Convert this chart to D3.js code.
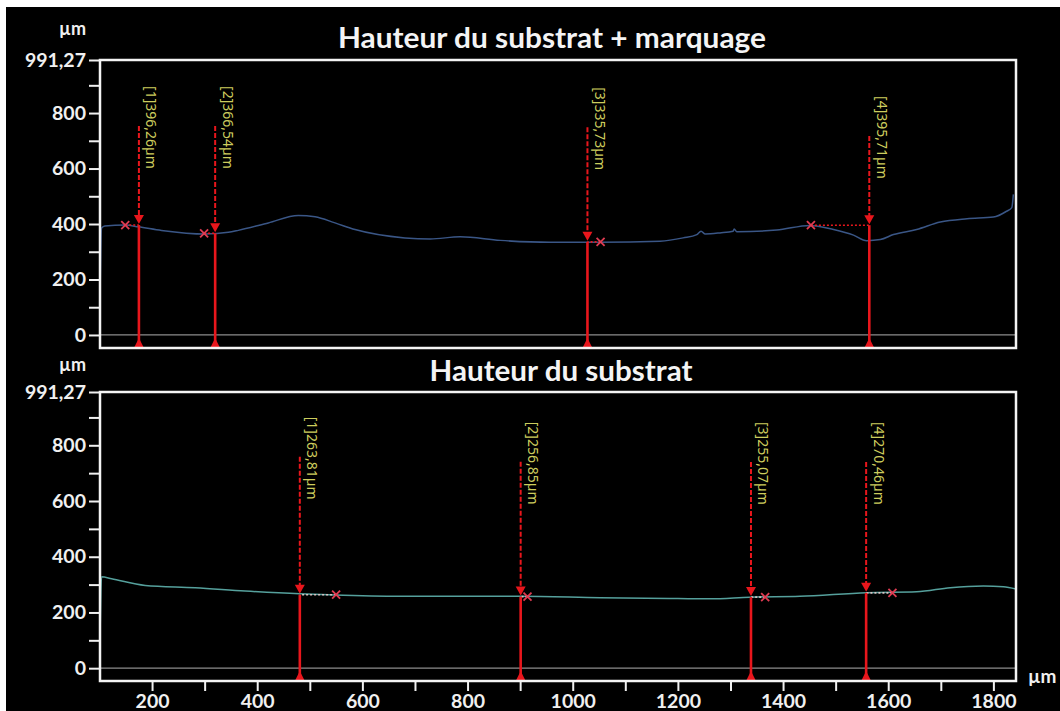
<!DOCTYPE html>
<html><head><meta charset="utf-8">
<script src="https://cdn.jsdelivr.net/npm/d3@7"></script>
<style>html,body{margin:0;padding:0;background:#fff;overflow:hidden}</style>
</head><body><svg id="chart" width="1060" height="711"></svg>
<script>
// ---------- data ----------
const titles = ["Hauteur du substrat + marquage", "Hauteur du substrat"];
const unitLabel = "µm";
const xTicks = [200,300,400,500,600,700,800,900,1000,1100,1200,1300,1400,1500,1600,1700,1800];
const xTickLabels = ["200","","400","","600","","800","","1000","","1200","","1400","","1600","","1800"];
const yTicks = [0,100,200,300,400,500,600,700,800,900,991.27];
const yTickLabels = ["0","","200","","400","","600","","800","","991,27"];

const topProfileX = [101,104,110,149,174,218,301,345,364,421,478,510,548,586,681,729,786,862,957,1052,1166,1210,1236,1244,1252,1280,1305,1307,1312,1388,1451,1496,1534,1559,1585,1610,1654,1699,1750,1800,1825,1835,1838];
const topProfileY = [130,385,393,396,390,377,364,370,377,404,431,426,404,380,350,346,354,341,334,334,338,350,362,374,364,368,374,382,372,378,395,380,360,340,344,362,380,407,419,425,446,459,507];

const bottomProfileX = [101,104,123,187,282,377,481,548,681,900,1052,1200,1261,1337,1432,1559,1654,1718,1781,1819,1843];
const bottomProfileY = [100,328,321,297,289,277,267,263,258,258,253,250,249,255,258,271,274,289,295,292,284];

const topCursorX = [175, 320, 1028, 1564];
const topCursorRefX = [149, 299, 1053, 1453];
const topCursorValue = [396.26, 366.54, 335.73, 395.71];
const topCursorDashTop = [753, 753, 749, 717];

const bottomCursorX = [481, 901, 1339, 1558];
const bottomCursorRefX = [550, 914, 1366, 1608];
const bottomCursorValue = [263.81, 256.85, 255.07, 270.46];
const bottomCursorDashTop = [759, 741, 740, 740];

// ---------- layout / style ----------
const svg = d3.select("#chart");
svg.append("rect").attr("x",0).attr("y",0).attr("width",1060).attr("height",711).attr("fill","#fff");
svg.append("rect").attr("x",6).attr("y",7).attr("width",1054).attr("height",704).attr("fill","#000");

const RED = "#e8161c";
const LABEL = "#cdcd5e";
const fontBold = "Lato, 'Open Sans', sans-serif";

const x = d3.scaleLinear().domain([101, 1843]).range([100, 1016]);

const panels = [
  {title: titles[0], titleX: 552, titleY: 48, titleW: 428, unitY: 35, y0: 60, y1: 348, yMin: -47,
   px: topProfileX, py: topProfileY, color: "#3a5686",
   cx: topCursorX, rx: topCursorRefX, cv: topCursorValue, cd: topCursorDashTop, dotColor: RED, xAxis: false},
  {title: titles[1], titleX: 561, titleY: 381, titleW: 263, unitY: 371, y0: 392, y1: 681, yMin: -46,
   px: bottomProfileX, py: bottomProfileY, color: "#55a09c",
   cx: bottomCursorX, rx: bottomCursorRefX, cv: bottomCursorValue, cd: bottomCursorDashTop, dotColor: "#d8c0c0", xAxis: true}
];

panels.forEach(p => {
  const y = d3.scaleLinear().domain([p.yMin, 991.27]).range([p.y1, p.y0]);
  const g = svg.append("g");

  // title
  g.append("text").attr("x", p.titleX).attr("y", p.titleY).attr("text-anchor","middle")
    .attr("font-family", fontBold).attr("font-weight",700).attr("font-size",29)
    .attr("textLength", p.titleW).attr("lengthAdjust","spacingAndGlyphs")
    .attr("fill","#f4f4f4").text(p.title);

  // unit
  g.append("text").attr("x", 86).attr("y", p.unitY).attr("text-anchor","end")
    .attr("font-family", fontBold).attr("font-weight",700).attr("font-size",18)
    .attr("fill","#f0f0f0").text(unitLabel);

  // zero line
  g.append("line").attr("x1", x.range()[0]).attr("x2", x.range()[1])
    .attr("y1", y(0)).attr("y2", y(0)).attr("stroke","#8c8c8c").attr("stroke-width",1.2);

  // profile
  const line = d3.line().x(d => x(d[0])).y(d => y(d[1])).curve(d3.curveMonotoneX);
  g.append("path").datum(p.px.map((v,i) => [v, p.py[i]]))
    .attr("d", line).attr("fill","none").attr("stroke", p.color).attr("stroke-width",1.5);

  // cursors
  p.cx.forEach((cxv, i) => {
    const cx = x(cxv), cy = y(p.cv[i]), rx = x(p.rx[i]), yb = p.y1, dt = y(p.cd[i]);
    const cg = g.append("g");
    cg.append("line").attr("x1", rx).attr("x2", cx).attr("y1", cy).attr("y2", cy)
      .attr("stroke", p.dotColor).attr("stroke-width",1.6).attr("stroke-dasharray","2,2");
    cg.append("line").attr("x1", cx).attr("x2", cx).attr("y1", dt).attr("y2", cy-8)
      .attr("stroke", RED).attr("stroke-width",2).attr("stroke-dasharray","5,2");
    cg.append("line").attr("x1", cx).attr("x2", cx).attr("y1", cy).attr("y2", yb)
      .attr("stroke", RED).attr("stroke-width",2.6);
    cg.append("path").attr("d", `M${cx-5},${cy-10}L${cx+5},${cy-10}L${cx},${cy-1}Z`).attr("fill", RED);
    cg.append("path").attr("d", `M${cx-5},${yb}L${cx+5},${yb}L${cx},${yb-10}Z`).attr("fill", RED);
    const s = 4;
    cg.append("path").attr("d", `M${rx-s},${cy-s}L${rx+s},${cy+s}M${rx-s},${cy+s}L${rx+s},${cy-s}`)
      .attr("stroke","#e03c52").attr("stroke-width",1.8).attr("fill","none");
    const txt = `[${i+1}]${p.cv[i].toFixed(2).replace(".", ",")}µm`;
    cg.append("text").attr("transform", `translate(${cx+7.5},${dt-40}) rotate(90)`)
      .attr("font-family","'Noto Sans', 'Open Sans', sans-serif").attr("font-size",14)
      .attr("fill", LABEL).text(txt);
  });

  // y axis
  const ya = g.append("g").attr("transform", `translate(${x.range()[0]},0)`)
    .call(d3.axisLeft(y).tickValues(yTicks).tickSize(11).tickPadding(3)
      .tickFormat((d,i) => yTickLabels[i]));
  ya.select(".domain").remove();
  ya.selectAll("line").attr("stroke","#f0f0f0").attr("stroke-width",2);
  ya.selectAll("text").attr("fill","#f0f0f0").attr("font-family", fontBold)
    .attr("font-weight",700).attr("font-size",19.5);

  if (p.xAxis) {
    const xa = g.append("g").attr("transform", `translate(0,${p.y1})`)
      .call(d3.axisBottom(x).tickValues(xTicks).tickSize(10).tickPadding(3)
        .tickFormat((d,i) => xTickLabels[i]));
    xa.select(".domain").remove();
    xa.selectAll("line").attr("stroke","#f0f0f0").attr("stroke-width",2);
    xa.selectAll("text").attr("fill","#f0f0f0").attr("font-family", fontBold)
      .attr("font-weight",700).attr("font-size",19.5);
    g.append("text").attr("x", 1028).attr("y", 683)
      .attr("font-family", fontBold).attr("font-weight",700).attr("font-size",19)
      .attr("fill","#f0f0f0").text(unitLabel);
  }

  // frame
  g.append("rect").attr("x", x.range()[0]).attr("y", p.y0)
    .attr("width", x.range()[1]-x.range()[0]).attr("height", p.y1-p.y0)
    .attr("fill","none").attr("stroke","#f4f4f4").attr("stroke-width",2.5);
});
</script>
</body></html>
